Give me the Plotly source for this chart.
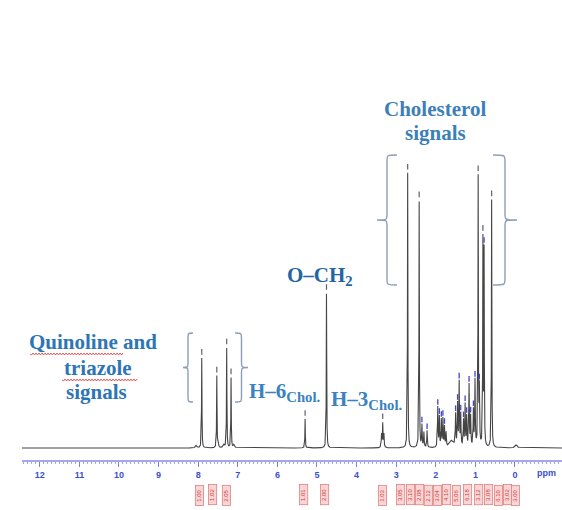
import numpy as np
import plotly.graph_objects as go

# ---------------- data ----------------
# 1H NMR peak list: chemical shift (ppm), relative height, half-width (ppm)
peak_ppm = [8.05, 7.91, 7.53, 7.49, 7.35, 7.28, 7.17, 7.10,
            5.30, 4.76,
            3.37, 3.34, 3.31,
            2.71, 2.42, 2.35, 2.30, 2.22,
            1.95, 1.91, 1.86, 1.82, 1.78, 1.74, 1.60,
            1.50, 1.45, 1.41, 1.37,
            1.30, 1.26, 1.22, 1.16, 1.12,
            1.05, 1.01, 0.93, 0.90, 0.81, 0.78, 0.59,
            -0.03]
peak_height = [2.5, 90, 72, 4, 3, 100, 70, 3,
               29, 155,
               13, 24, 13,
               275, 247, 22, 15, 17,
               40, 30, 27, 28, 20, 14, 7,
               32, 42, 64, 32,
               26, 42, 30, 62, 30,
               36, 66, 268, 55, 205, 195, 248,
               3]
peak_hw = [0.02, 0.006, 0.006, 0.01, 0.02, 0.006, 0.006, 0.02,
           0.006, 0.006,
           0.008, 0.008, 0.008,
           0.006, 0.006, 0.008, 0.008, 0.008,
           0.008, 0.008, 0.008, 0.008, 0.008, 0.008, 0.06,
           0.008, 0.008, 0.008, 0.008,
           0.008, 0.008, 0.008, 0.008, 0.008,
           0.008, 0.008, 0.006, 0.008, 0.006, 0.006, 0.006,
           0.03]

# peak-picking marks (main signals and multiplet picks)
pick_main = [7.91, 7.53, 7.28, 7.17, 5.30, 4.76, 3.34, 2.71, 2.42, 0.93, 0.81, 0.59]
pick_multi = [2.35, 2.22, 1.95, 1.91, 1.86, 1.82, 1.78, 1.50, 1.45, 1.41, 1.37,
              1.30, 1.26, 1.22, 1.16, 1.12, 1.05, 1.01, 0.90, 0.78]

# axis ticks
tick_vals = [12, 11, 10, 9, 8, 7, 6, 5, 4, 3, 2, 1, 0]
tick_text = [str(v) for v in tick_vals]

# integration labels (position in ppm, integral value)
integ_ppm = [7.98, 7.65, 7.30, 5.35, 4.82, 3.36, 2.90, 2.65, 2.42, 2.20, 1.97,
             1.74, 1.49, 1.21, 0.93, 0.68, 0.43, 0.20, 0.00]
integ_val = ["1.00", "1.02", "2.05", "1.01", "2.00", "1.03", "3.05", "3.10", "2.08",
             "2.12", "3.04", "4.10", "5.06", "6.18", "3.12", "3.08", "6.10", "3.02", "3.00"]

# ---------------- build spectrum ----------------
x = np.arange(-1.19, 12.45, 0.0008)
y = np.zeros_like(x)
for p, h, w in zip(peak_ppm, peak_height, peak_hw):
    y += h * w * w / ((x - p) ** 2 + w * w)


def spec_at(p):
    return float(sum(h * w * w / ((p - pp) ** 2 + w * w)
                     for pp, h, w in zip(peak_ppm, peak_height, peak_hw)))


fig = go.Figure()
fig.add_trace(go.Scatter(x=x, y=y, mode="lines",
                         line=dict(color="#454545", width=1.1), hoverinfo="skip"))
fig.add_trace(go.Scatter(x=pick_main, y=[spec_at(p) + 6 for p in pick_main], mode="markers",
                         marker=dict(symbol="line-ns", size=4, line=dict(width=1.2, color="#606070")),
                         hoverinfo="skip"))
fig.add_trace(go.Scatter(x=pick_multi, y=[spec_at(p) + 4 for p in pick_multi], mode="markers",
                         marker=dict(symbol="line-ns", size=4, line=dict(width=1.3, color="#4545c8")),
                         hoverinfo="skip"))

# ---------------- layout helpers ----------------
W, H = 562, 510
ML, MR, MT, MB = 22, 0, 10, 50
PW, PH = W - ML - MR, H - MT - MB


def px(xp):
    return (xp - ML) / PW


def py(yp):
    return (H - MB - yp) / PH


def brace(x_arm, tip, ytop, ybot):
    ym = (ytop + ybot) / 2
    xs = (x_arm + tip) / 2
    r = 6
    pts = [
        f"M {px(x_arm)},{py(ytop)}",
        f"C {px(xs)},{py(ytop)} {px(xs)},{py(ytop)} {px(xs)},{py(ytop + r)}",
        f"L {px(xs)},{py(ym - r)}",
        f"C {px(xs)},{py(ym)} {px(xs)},{py(ym)} {px(tip)},{py(ym)}",
        f"C {px(xs)},{py(ym)} {px(xs)},{py(ym)} {px(xs)},{py(ym + r)}",
        f"L {px(xs)},{py(ybot - r)}",
        f"C {px(xs)},{py(ybot)} {px(xs)},{py(ybot)} {px(x_arm)},{py(ybot)}",
    ]
    return dict(type="path", xref="paper", yref="paper", path=" ".join(pts),
                line=dict(color="#8c9fb8", width=1.4))


def squiggle(x0, x1, yp):
    pts = [f"M {px(x0)},{py(yp)}"]
    xx = x0
    k = 0
    while xx < x1:
        xx += 1.5
        k += 1
        pts.append(f"L {px(xx)},{py(yp + (1 if k % 2 else -1))}")
    return dict(type="path", xref="paper", yref="paper", path=" ".join(pts),
                line=dict(color="#e03535", width=0.8))


shapes = [
    brace(193, 183, 333, 402),
    brace(235, 248, 333, 402),
    brace(397, 377, 155, 285),
    brace(493, 517, 155, 285),
    squiggle(30, 123, 354),
    squiggle(62, 137, 380),
]

SERIF = "Liberation Serif"
BLUE = "#2E75B6"
FS = 21
annotations = []


def label(text, xp, yp, size=FS, color=BLUE):
    annotations.append(dict(text=text, x=px(xp), y=py(yp), xref="paper", yref="paper",
                            showarrow=False, xanchor="center", yanchor="middle",
                            font=dict(family=SERIF, size=size, color=color, weight="bold")))


label("Quinoline and", 93, 342)
label("triazole", 98, 368)
label("signals", 96, 392)
label("Cholesterol", 435, 109, color="#3d7fb8")
label("signals", 435, 133, color="#3d7fb8")
label("O–CH<sub>2</sub>", 320, 276, color="#24659f")
annotations.append(dict(text="H–6<sub>Chol.</sub>", x=px(247), y=py(392), xref="paper", yref="paper",
                        showarrow=False, xanchor="left", yanchor="middle",
                        font=dict(family=SERIF, size=FS, color="#3a82c0", weight="bold")))
annotations.append(dict(text="H–3<sub>Chol.</sub>", x=px(329), y=py(400), xref="paper", yref="paper",
                        showarrow=False, xanchor="left", yanchor="middle",
                        font=dict(family=SERIF, size=FS, color="#3a82c0", weight="bold")))
annotations.append(dict(text="ppm", x=px(546), y=py(473), xref="paper", yref="paper",
                        showarrow=False, xanchor="center", yanchor="middle",
                        font=dict(family="Liberation Sans", size=9, color="#3a4fcf", weight="bold")))

for p, v in zip(integ_ppm, integ_val):
    annotations.append(dict(text=v, x=p, y=py(495), xref="x", yref="paper", showarrow=False,
                            textangle=-90, xanchor="center", yanchor="middle",
                            width=19, height=7,
                            font=dict(family="Liberation Sans", size=6, color="#d03a3a"),
                            bgcolor="#f9d6d6", bordercolor="#e08080", borderwidth=0.8,
                            borderpad=0))

fig.update_layout(
    width=W, height=H,
    margin=dict(l=ML, r=MR, t=MT, b=MB, pad=0),
    paper_bgcolor="white", plot_bgcolor="white",
    showlegend=False,
    shapes=shapes,
    annotations=annotations,
    xaxis=dict(range=[12.449, -1.187], tickvals=tick_vals, ticktext=tick_text,
               showline=True, linecolor="#a6a6f0", linewidth=1.5,
               ticks="outside", ticklen=5, tickwidth=1, tickcolor="#8080e0",
               minor=dict(dtick=0.1, ticks="outside", ticklen=2, tickcolor="#a6a6f0", tickwidth=1),
               tickfont=dict(family="Liberation Sans", size=9, color="#3a4fcf", weight="bold"),
               showgrid=False, zeroline=False, ticklabelstandoff=0),
    yaxis=dict(visible=False, range=[-12, 438], showgrid=False, zeroline=False),
)

fig.write_html("out.html", config={"displayModeBar": False},
               post_script="document.body.style.margin='0';")
